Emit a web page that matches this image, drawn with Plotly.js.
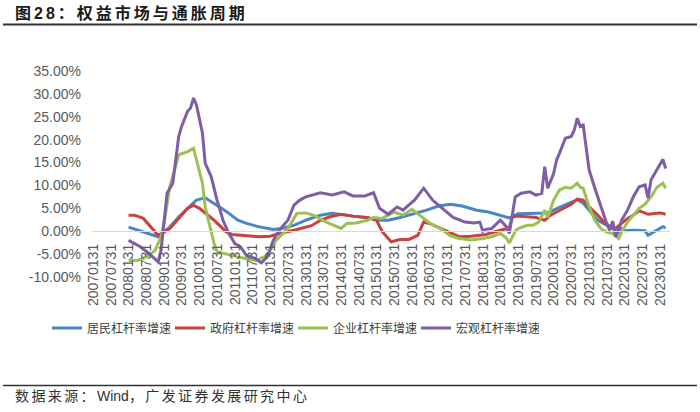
<!DOCTYPE html>
<html><head><meta charset="utf-8">
<script src="https://cdn.plot.ly/plotly-3.0.1.min.js"></script>
<style>
html,body{margin:0;padding:0;background:#fff;}
#chart{width:700px;height:412px;}
.gtitle{letter-spacing:3px;}
.annotation-text{letter-spacing:2.4px;}
</style></head><body><div id="chart"></div>
<script>
// ---- data (percent) ----
const seriesNames = ['居民杠杆率增速','政府杠杆率增速','企业杠杆率增速','宏观杠杆率增速'];

const householdDates = ['2008-01','2008-06','2008-11','2009-03','2009-06','2009-09','2009-12','2010-03','2010-06','2010-09','2010-11','2011-02','2011-05','2011-09','2012-02','2012-05','2012-09','2013-01','2013-06','2013-10','2014-05','2014-10','2015-02','2015-05','2015-09','2016-01','2016-06','2016-10','2017-02','2017-06','2017-11','2018-03','2018-08','2018-10','2019-01','2019-07','2019-11','2020-03','2020-06','2020-09','2020-11','2021-02','2021-04','2021-07','2021-10','2021-12','2022-01','2022-04','2022-08','2022-09','2022-11','2023-02','2023-03'];
const householdVals = [0.9,-0.1,-1.2,0.9,3.1,5.0,6.8,7.3,6.1,4.8,3.9,2.4,1.7,1.0,0.4,0.6,1.3,2.4,3.5,3.9,3.3,2.9,2.4,2.4,3.0,3.7,4.6,5.5,5.9,5.5,4.6,4.2,3.3,2.9,3.8,3.9,4.0,5.2,6.1,6.9,6.1,3.9,2.4,1.3,0.2,0.6,0.1,0.2,0.1,-0.9,-0.2,1.0,0.7];

const govDates = ['2008-01','2008-03','2008-06','2008-09','2008-11','2009-03','2009-06','2009-09','2009-11','2010-01','2010-06','2010-10','2010-12','2011-05','2011-09','2012-01','2012-04','2012-09','2013-03','2013-06','2013-09','2014-01','2014-05','2014-10','2015-01','2015-03','2015-06','2015-09','2015-12','2016-03','2016-05','2016-07','2016-11','2017-02','2017-05','2017-09','2018-02','2018-07','2018-10','2018-11','2019-01','2019-05','2019-07','2019-10','2019-12','2020-02','2020-05','2020-07','2020-09','2020-11','2021-01','2021-04','2021-06','2021-08','2021-10','2021-12','2022-02','2022-04','2022-06','2022-09','2022-11','2023-01','2023-03'];
const govVals = [3.5,3.5,2.8,0.6,-0.9,0.6,2.8,5.0,5.7,5.0,2.4,-0.1,-0.7,-0.9,-1.2,-1.1,-0.5,0.2,1.2,2.4,3.1,3.7,3.3,3.0,2.4,-0.1,-2.3,-1.8,-1.8,-0.9,2.0,1.7,0.5,-0.4,-1.2,-1.1,-0.7,0.2,0.7,3.1,3.3,3.1,3.0,2.4,3.5,4.2,5.3,5.9,7.0,6.8,5.3,3.5,2.0,1.1,0.6,1.7,2.8,3.5,4.5,3.7,3.9,4.0,3.7];

const corpDates = ['2008-01','2008-04','2008-07','2008-10','2008-12','2009-01','2009-03','2009-06','2009-09','2009-11','2009-12','2010-02','2010-03','2010-06','2010-07','2010-10','2011-02','2011-05','2011-08','2011-12','2012-03','2012-07','2012-10','2013-01','2013-04','2013-08','2014-01','2014-03','2014-06','2014-10','2014-12','2015-03','2015-07','2015-10','2016-01','2016-04','2016-07','2016-11','2017-02','2017-05','2017-09','2018-01','2018-04','2018-07','2018-09','2018-10','2018-12','2019-01','2019-04','2019-06','2019-08','2019-10','2019-11','2020-01','2020-03','2020-05','2020-07','2020-09','2020-10','2020-11','2021-01','2021-03','2021-05','2021-07','2021-09','2021-11','2021-12','2022-02','2022-04','2022-06','2022-08','2022-10','2022-12','2023-02','2023-03'];
const corpVals = [-6.4,-6.4,-5.6,-4.2,-1.2,1.7,9.7,16.7,17.4,18.1,15.6,10.5,5.3,-2.7,-4.5,-4.9,-5.6,-6.0,-6.4,-5.3,-2.0,0.6,3.9,4.0,3.4,2.0,0.6,1.7,1.8,2.4,3.0,2.8,4.2,3.5,4.8,3.3,1.8,0.4,-1.0,-1.6,-1.9,-1.6,-1.2,-0.5,-1.5,-2.6,0.0,0.6,1.3,1.3,2.0,4.6,3.0,6.8,9.0,9.6,9.4,10.5,9.6,9.4,5.3,2.4,0.6,-0.2,-0.5,-1.6,-0.2,2.0,3.5,5.0,5.9,7.5,9.6,10.5,9.4];

const macroDates = ['2008-01','2008-03','2008-05','2008-08','2008-11','2008-12','2009-02','2009-04','2009-06','2009-07','2009-09','2009-10','2009-11','2009-12','2010-02','2010-03','2010-05','2010-07','2010-09','2010-11','2011-01','2011-03','2011-05','2011-08','2011-10','2011-12','2012-02','2012-04','2012-07','2012-09','2012-11','2013-01','2013-06','2013-10','2014-02','2014-05','2014-09','2014-12','2015-02','2015-05','2015-08','2015-10','2016-02','2016-05','2016-08','2016-12','2017-03','2017-07','2017-10','2017-12','2018-01','2018-02','2018-04','2018-07','2018-09','2018-10','2018-11','2018-12','2019-02','2019-05','2019-07','2019-09','2019-10','2019-11','2020-01','2020-02','2020-03','2020-05','2020-07','2020-08','2020-09','2020-10','2020-11','2021-01','2021-03','2021-05','2021-07','2021-08','2021-09','2021-10','2021-11','2021-12','2022-02','2022-04','2022-06','2022-08','2022-09','2022-10','2022-12','2023-02','2023-03'];
const macroVals = [-2.0,-2.7,-3.4,-4.9,-6.7,-4.2,8.3,10.5,20.7,22.9,26.2,26.9,29.1,27.6,21.4,14.8,12.0,6.8,2.4,-0.5,-2.7,-3.4,-5.3,-6.0,-6.9,-5.6,-2.0,0.2,2.4,5.7,6.8,7.5,8.4,7.9,8.6,7.7,7.7,8.4,5.0,3.7,5.3,4.6,6.9,9.4,6.8,4.6,3.0,2.0,1.8,2.0,0.0,0.4,0.6,2.4,1.0,-0.5,3.5,7.5,8.3,8.6,7.9,8.3,14.1,9.4,12.6,15.6,17.0,20.3,20.7,22.1,24.7,22.9,23.2,13.4,9.4,5.3,1.7,0.2,2.2,-1.2,0.0,2.4,4.6,7.5,9.7,10.1,7.2,11.2,13.4,15.7,13.7];

const xTickVals = ['2007-01-31','2007-07-31','2008-01-31','2008-07-31','2009-01-31','2009-07-31','2010-01-31','2010-07-31','2011-01-31','2011-07-31','2012-01-31','2012-07-31','2013-01-31','2013-07-31','2014-01-31','2014-07-31','2015-01-31','2015-07-31','2016-01-31','2016-07-31','2017-01-31','2017-07-31','2018-01-31','2018-07-31','2019-01-31','2019-07-31','2020-01-31','2020-07-31','2021-01-31','2021-07-31','2022-01-31','2022-07-31','2023-01-31'];
const xTickText = ['20070131','20070731','20080131','20080731','20090131','20090731','20100131','20100731','20110131','20110731','20120131','20120731','20130131','20130731','20140131','20140731','20150131','20150731','20160131','20160731','20170131','20170731','20180131','20180731','20190131','20190731','20200131','20200731','20210131','20210731','20220131','20220731','20230131'];
const yTickVals = [-10,-5,0,5,10,15,20,25,30,35];
const yTickText = ['-10.00%','-5.00%','0.00%','5.00%','10.00%','15.00%','20.00%','25.00%','30.00%','35.00%'];

const titleText = '<b>图28：权益市场与通胀周期</b>';
const sourceText = '数据来源：<span style="letter-spacing:0px">Wind</span>，广发证券发展研究中心';

// ---- styling / layout ----
const colors = ['#4A86C5','#C9433E','#9BC153','#7E5EA6'];
const W = 700, H = 412, L = 92, R = 30, T = 71, B = 135;
const pw = W - L - R, ph = H - T - B;
const xp = px => (px - L) / pw;
const yp = py => (H - B - py) / ph;
const FAM = '"Liberation Sans", Arial, "Noto Sans CJK SC", sans-serif';
const yRange = [-10, 35];
const monthEnd = d => d + '-28';

const seriesDates = [householdDates, govDates, corpDates, macroDates];
const seriesVals = [householdVals, govVals, corpVals, macroVals];

const traces = seriesNames.map((n, i) => ({
  type: 'scatter', mode: 'lines', name: n,
  x: seriesDates[i].map(monthEnd), y: seriesVals[i],
  line: {color: colors[i], width: 3},
  hoverinfo: 'skip'
}));

const layout = {
  width: W, height: H,
  margin: {l: L, r: R, t: T, b: B, pad: 0},
  paper_bgcolor: '#fff', plot_bgcolor: '#fff',
  font: {family: FAM, color: '#595959'},
  title: {
    text: titleText, xref: 'container', yref: 'container',
    x: 15 / W, xanchor: 'left', y: 1 - 13 / H, yanchor: 'middle',
    font: {family: FAM, size: 16, color: '#1a1a1a'}
  },
  xaxis: {
    type: 'date', range: ['2007-01-16', '2023-05-12'],
    anchor: 'free', position: -yRange[0] / (yRange[1] - yRange[0]),
    showline: true, linecolor: '#d9d9d9', linewidth: 1,
    showgrid: false, zeroline: false, ticks: '',
    tickmode: 'array', tickvals: xTickVals, ticktext: xTickText,
    tickangle: -90, ticklabelstandoff: 6,
    tickfont: {family: FAM, size: 14, color: '#595959'},
    fixedrange: true
  },
  yaxis: {
    range: yRange, showgrid: false, zeroline: false, showline: false, ticks: '',
    tickmode: 'array', tickvals: yTickVals, ticktext: yTickText,
    ticklabelstandoff: 10,
    tickfont: {family: FAM, size: 14, color: '#595959'},
    fixedrange: true
  },
  showlegend: true,
  legend: {
    orientation: 'h', x: xp(47), xanchor: 'left', y: yp(328), yanchor: 'middle',
    font: {family: FAM, size: 12, color: '#404040'},
    entrywidth: 78, itemwidth: 30, bgcolor: 'rgba(0,0,0,0)', borderwidth: 0
  },
  shapes: [
    {type: 'line', xref: 'paper', yref: 'paper', x0: xp(3), x1: xp(697), y0: yp(24.5), y1: yp(24.5), line: {color: '#333', width: 2}},
    {type: 'line', xref: 'paper', yref: 'paper', x0: xp(3), x1: xp(697), y0: yp(385.5), y1: yp(385.5), line: {color: '#333', width: 1.5}}
  ],
  annotations: [
    {text: sourceText, xref: 'paper', yref: 'paper', x: xp(13), y: yp(396), xanchor: 'left', yanchor: 'middle', showarrow: false,
     font: {family: FAM, size: 14, color: '#333'}}
  ]
};

Plotly.newPlot('chart', traces, layout, {staticPlot: true, displayModeBar: false});
</script></body></html>
